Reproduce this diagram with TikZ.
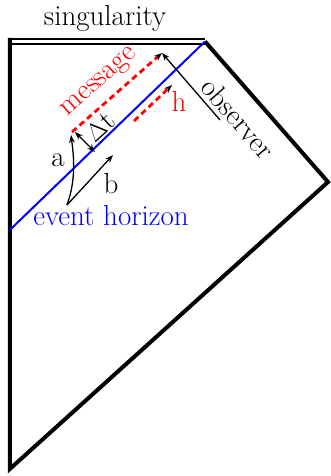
\documentclass[tikz,border=0pt]{standalone}
\usetikzlibrary{arrows.meta}

\begin{document}
\begin{tikzpicture}[x=1pt, y=-1pt, line join=miter,
    frame/.style={line width=4pt},
    sing/.style={line width=2pt, double, double distance=3pt},
    horizon/.style={blue, line width=2pt},
    signal/.style={red, line width=2.8pt, dash pattern=on 6pt off 4pt},
    ray/.style={line width=1.3pt},
    lbl/.style={font=\fontsize{29}{34}\selectfont, inner sep=0pt},
    >={Stealth[length=8pt, width=6pt]}]
  \useasboundingbox (0,0) rectangle (331,476);
  % ================= Penrose frame =================
  \coordinate (TL) at (9.8,38);
  \coordinate (SL) at (8,41.5);
  \coordinate (TR) at (205,41.5);
  \coordinate (R)  at (328,182);
  \coordinate (B)  at (9.8,469);
  \draw[sing] (SL) -- (TR);
  \draw[frame] (TR) -- (R) -- (B) -- (TL);
  \node[lbl] (singlbl) at (105,18) {singularity};
  % ================= event horizon =================
  \coordinate (HL) at (9.8,230);
  \draw[horizon] (HL) -- (TR);
  \node[lbl, blue] (horlbl) at (111,216) {event horizon};
  % ================= signals =================
  \coordinate (msgA) at (72,132);
  \coordinate (msgB) at (162,53);
  \draw[signal, -{Stealth[length=8pt, width=6pt, black]}] (msgA) -- (msgB);
  \node[lbl, red, rotate=42] (msglbl) at (100,83) {message};
  \coordinate (hA) at (134,121);
  \coordinate (hB) at (172,85);
  \draw[signal, -{Stealth[length=8pt, width=6pt, black]}] (hA) -- (hB);
  \node[lbl, red] (hlbl) at (179,101) {h};
  % observer
  \coordinate (obsA) at (220,120);
  \draw[ray, ->] (obsA) -- (msgB);
  \node[lbl, rotate=-49] (obslbl) at (238,118) {observer};
  % ================= delay and observers a, b =================
  \coordinate (dtA) at (75,132);
  \coordinate (dtB) at (95,152);
  \draw[ray, <->] (dtA) -- (dtB);
  \node[lbl, rotate=42] (dtlbl) at (100,127) {$\Delta$t};
  \coordinate (src) at (67,205);
  \coordinate (aTip) at (71,135);
  \coordinate (bTip) at (113,155);
  \draw[ray, ->] (src) .. controls (76,180) and (74,158) .. (aTip);
  \draw[ray, ->] (src) -- (bTip);
  \node[lbl] (albl) at (58,160) {a};
  \node[lbl] (blbl) at (111,184) {b};
\end{tikzpicture}
\end{document}
